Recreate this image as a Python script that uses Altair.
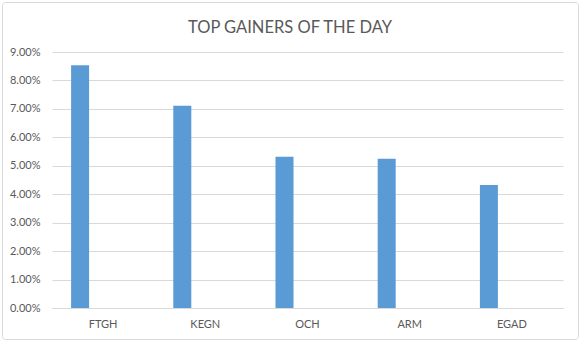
import altair as alt
import pandas as pd

categories = ["FTGH", "KEGN", "OCH", "ARM", "EGAD"]
gains = [0.0853, 0.0711, 0.0532, 0.0525, 0.0432]
y_ticks = [0.00, 0.01, 0.02, 0.03, 0.04, 0.05, 0.06, 0.07, 0.08, 0.09]
title_text = ["TOP GAINERS OF THE DAY"]

df = pd.DataFrame({"Ticker": categories, "Gain": gains})

GRAY = "#595959"
GRID = "#d9d9d9"

bars = alt.Chart(df).mark_bar(width=18, xOffset=-23, color="#5b9bd5").encode(
    x=alt.X(
        "Ticker:N",
        sort=categories,
        scale=alt.Scale(paddingInner=0, paddingOuter=0),
        axis=alt.Axis(
            title=None, labelAngle=0, ticks=False, domain=True, domainColor=GRID,
            labelColor=GRAY, labelFontSize=11, labelPadding=10, labelFont="Lato",
        ),
    ),
    y=alt.Y(
        "Gain:Q",
        scale=alt.Scale(domain=[0, 0.09], nice=False),
        axis=alt.Axis(
            title=None, values=y_ticks, format=".2%", domain=False, ticks=False,
            gridColor=GRID, gridWidth=1, labelColor=GRAY, labelFontSize=11,
            labelPadding=12, labelFont="Lato",
        ),
    ),
)

border = alt.Chart(pd.DataFrame({"a": [0]})).mark_rect(
    fill=None, stroke=GRID, strokeWidth=1, cornerRadius=3, clip=False
).encode(
    x=alt.value(-49.5), x2=alt.value(526.5), y=alt.value(-49.5), y2=alt.value(287.5)
)

title = alt.Chart(pd.DataFrame({"t": title_text})).mark_text(
    fontSize=16.5, font="Lato", fontWeight="normal", color=GRAY,
    align="center", baseline="alphabetic", clip=False,
).encode(
    text="t:N", x=alt.value(238), y=alt.value(-19)
)

chart = alt.layer(bars, border, title).properties(
    width=511,
    height=256,
    autosize=alt.AutoSizeParams(type="none"),
    padding={"left": 52, "top": 52, "right": 19, "bottom": 36},
    background="white",
).configure_view(stroke=None)

chart.save("out.html", embed_options={"renderer": "svg", "actions": False})
